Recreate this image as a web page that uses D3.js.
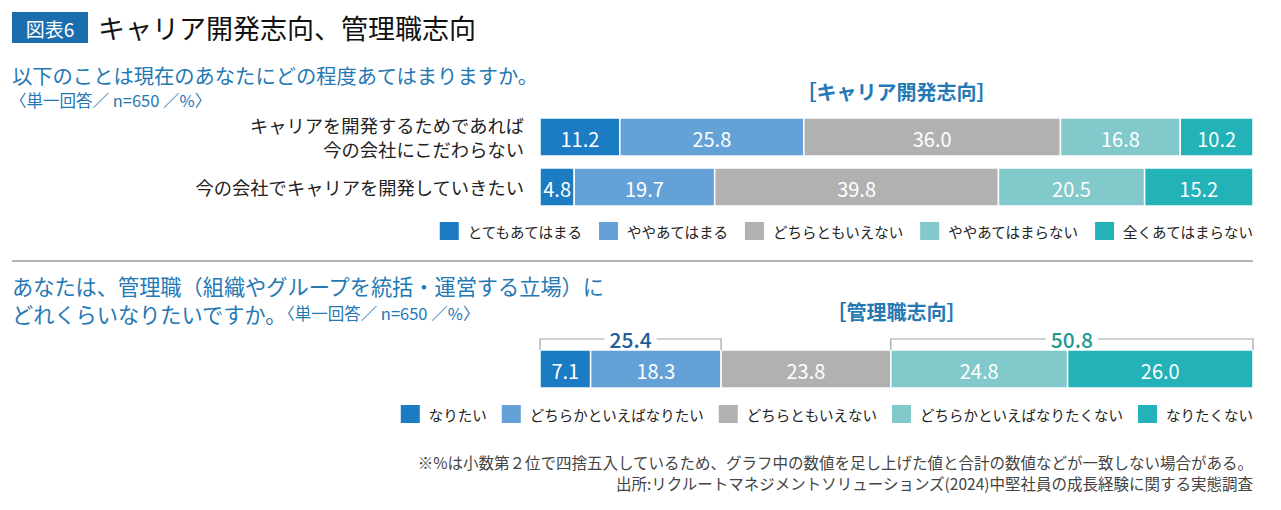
<!DOCTYPE html>
<html><head><meta charset="utf-8">
<script src="https://cdn.jsdelivr.net/npm/d3@7"></script>
<style>
body{margin:0;background:#fff;}
svg{display:block;}
text{font-family:"Noto Sans CJK JP","Noto Sans",sans-serif;}
</style></head><body>
<svg id="chart" width="1281" height="510"></svg>
<script>
// ---- data ----
const figNo = "図表6";
const mainTitle = "キャリア開発志向、管理職志向";
const q1Line = "以下のことは現在のあなたにどの程度あてはまりますか。";
const q1Note = "〈単一回答／ n=650 ／%〉";
const q2Line1 = "あなたは、管理職（組織やグループを統括・運営する立場）に";
const q2Line2 = "どれくらいなりたいですか。";
const q2Note = "〈単一回答／ n=650 ／%〉";
const header1 = "［キャリア開発志向］";
const header2 = "［管理職志向］";
const categories1 = ["キャリアを開発するためであれば|今の会社にこだわらない", "今の会社でキャリアを開発していきたい"];
const series1 = ["とてもあてはまる", "ややあてはまる", "どちらともいえない", "ややあてはまらない", "全くあてはまらない"];
const values1 = [
  [11.2, 25.8, 36.0, 16.8, 10.2],
  [4.8, 19.7, 39.8, 20.5, 15.2]
];
const series2 = ["なりたい", "どちらかといえばなりたい", "どちらともいえない", "どちらかといえばなりたくない", "なりたくない"];
const values2 = [7.1, 18.3, 23.8, 24.8, 26.0];
const bracketLabels = ["25.4", "50.8"];
const bracketRanges = [[0, 1], [3, 4]];
const footnotes = ["※%は小数第２位で四捨五入しているため、グラフ中の数値を足し上げた値と合計の数値などが一致しない場合がある。",
  "出所:リクルートマネジメントソリューションズ(2024)中堅社員の成長経験に関する実態調査"];

// ---- style ----
const colors = ["#1b7bc3", "#64a1d6", "#b1b1b2", "#82c9cb", "#22b2b8"];
const blue = "#2478b4";
const numFont = "Roboto, sans-serif";
const svg = d3.select("#chart");

// title
svg.append("rect").attr("x", 12).attr("y", 12).attr("width", 76).attr("height", 31).attr("fill", "#1a6eae");
svg.append("text").attr("x", 50).attr("y", 28).attr("text-anchor", "middle").attr("dominant-baseline", "central")
  .attr("fill", "#fff").attr("font-size", 19).text(figNo);
svg.append("text").attr("x", 98).attr("y", 27).attr("dominant-baseline", "central")
  .attr("fill", "#111").attr("font-size", 27).attr("font-weight", 400).text(mainTitle);

// question 1
svg.append("text").attr("x", 12).attr("y", 75).attr("dominant-baseline", "central")
  .attr("fill", blue).attr("font-size", 20.3).text(q1Line);
svg.append("text").attr("x", 10).attr("y", 100).attr("dominant-baseline", "central")
  .attr("fill", blue).attr("font-size", 16.5).text(q1Note);

const x = d3.scaleLinear().domain([0, 100]).range([540, 1253]);
const cx = (x.range()[0] + x.range()[1]) / 2;

svg.append("text").attr("x", cx).attr("y", 91).attr("text-anchor", "middle").attr("dominant-baseline", "central")
  .attr("fill", blue).attr("font-size", 20).attr("font-weight", 700).text(header1);

const y1 = d3.scaleBand().domain(categories1).range([118, 206]).paddingInner(0.24).paddingOuter(0);

function stack(vals) {
  let acc = 0;
  return vals.map((v, i) => { const s = acc; acc += v; return {i, v, s, e: acc}; });
}

function drawBar(g, vals, y0, h) {
  const segs = stack(vals);
  g.selectAll("rect.seg").data(segs).enter().append("rect").attr("class", "seg")
    .attr("x", d => x(d.s)).attr("width", d => x(d.e) - x(d.s))
    .attr("y", y0).attr("height", h).attr("fill", d => colors[d.i])
    .attr("stroke", "#fff").attr("stroke-width", 1.5);
  g.selectAll("text.val").data(segs).enter().append("text").attr("class", "val")
    .attr("x", d => (x(d.s) + x(d.e)) / 2).attr("y", y0 + h / 2 + 1)
    .attr("text-anchor", "middle").attr("dominant-baseline", "central")
    .attr("fill", "#fff").attr("font-size", 20).attr("font-family", numFont)
    .text(d => d.v.toFixed(1));
}

categories1.forEach((c, ri) => {
  const g = svg.append("g");
  drawBar(g, values1[ri], y1(c), y1.bandwidth());
  const lines = c.split("|");
  const cy = y1(c) + y1.bandwidth() / 2;
  const lh = 24;
  lines.forEach((ln, li) => {
    svg.append("text").attr("x", 524).attr("y", cy + (li - (lines.length - 1) / 2) * lh)
      .attr("text-anchor", "end").attr("dominant-baseline", "central")
      .attr("fill", "#222").attr("font-size", 18.3).text(ln);
  });
});

function legend(names, yc, right, gap) {
  const g = svg.append("g");
  const items = names.map((n, i) => {
    const gi = g.append("g");
    gi.append("rect").attr("x", 0).attr("y", yc - 9).attr("width", 19).attr("height", 18).attr("fill", colors[i]);
    const t = gi.append("text").attr("x", 28).attr("y", yc).attr("dominant-baseline", "central")
      .attr("fill", "#222").attr("font-size", 14.5).text(n);
    return {gi, w: 28 + t.node().getComputedTextLength()};
  });
  const total = d3.sum(items, d => d.w) + gap * (items.length - 1);
  let pos = right - total;
  items.forEach(it => { it.gi.attr("transform", `translate(${pos},0)`); pos += it.w + gap; });
}
legend(series1, 231, 1253, 17);

// separator
svg.append("line").attr("x1", 12).attr("x2", 1253).attr("y1", 261).attr("y2", 261)
  .attr("stroke", "#b5b5b5").attr("stroke-width", 2);

// question 2
svg.append("text").attr("x", 12).attr("y", 285).attr("dominant-baseline", "central")
  .attr("fill", blue).attr("font-size", 21.2).text(q2Line1);
const q2t = svg.append("text").attr("x", 12).attr("y", 313).attr("dominant-baseline", "central")
  .attr("fill", blue).attr("font-size", 21.2);
q2t.append("tspan").text(q2Line2);
q2t.append("tspan").attr("font-size", 16.5).text(q2Note);

svg.append("text").attr("x", cx).attr("y", 311).attr("text-anchor", "middle").attr("dominant-baseline", "central")
  .attr("fill", blue).attr("font-size", 20).attr("font-weight", 700).text(header2);

const y2 = d3.scaleBand().domain(["管理職志向"]).range([350, 388]).padding(0);
const g2 = svg.append("g");
drawBar(g2, values2, y2("管理職志向"), y2.bandwidth());

// brackets
const segs2 = stack(values2);
const bracketColors = ["#1d5f9b", "#1e9a92"];
bracketRanges.forEach((r, bi) => {
  const x0 = x(segs2[r[0]].s), x1 = x(segs2[r[1]].e);
  const by = 339, bb = 350;
  const g = svg.append("g");
  g.append("path").attr("d", `M${x0},${bb}V${by}H${x1}V${bb}`)
    .attr("fill", "none").attr("stroke", "#9aa5ad").attr("stroke-width", 1.2);
  const t = g.append("text").attr("x", (x0 + x1) / 2).attr("y", by).attr("text-anchor", "middle")
    .attr("dominant-baseline", "central").attr("fill", bracketColors[bi]).attr("font-size", 21)
    .attr("font-weight", 500).attr("font-family", numFont).text(bracketLabels[bi]);
  const bb2 = t.node().getBBox();
  g.insert("rect", "text").attr("x", bb2.x - 5).attr("y", by - 3).attr("width", bb2.width + 10).attr("height", 6).attr("fill", "#fff");
});

legend(series2, 414, 1253, 15);

// footnotes
footnotes.forEach((f, i) => {
  svg.append("text").attr("x", 1253).attr("y", 462 + i * 21).attr("text-anchor", "end").attr("dominant-baseline", "central")
    .attr("fill", "#444").attr("font-size", 15.5).text(f);
});
</script>
</body></html>
